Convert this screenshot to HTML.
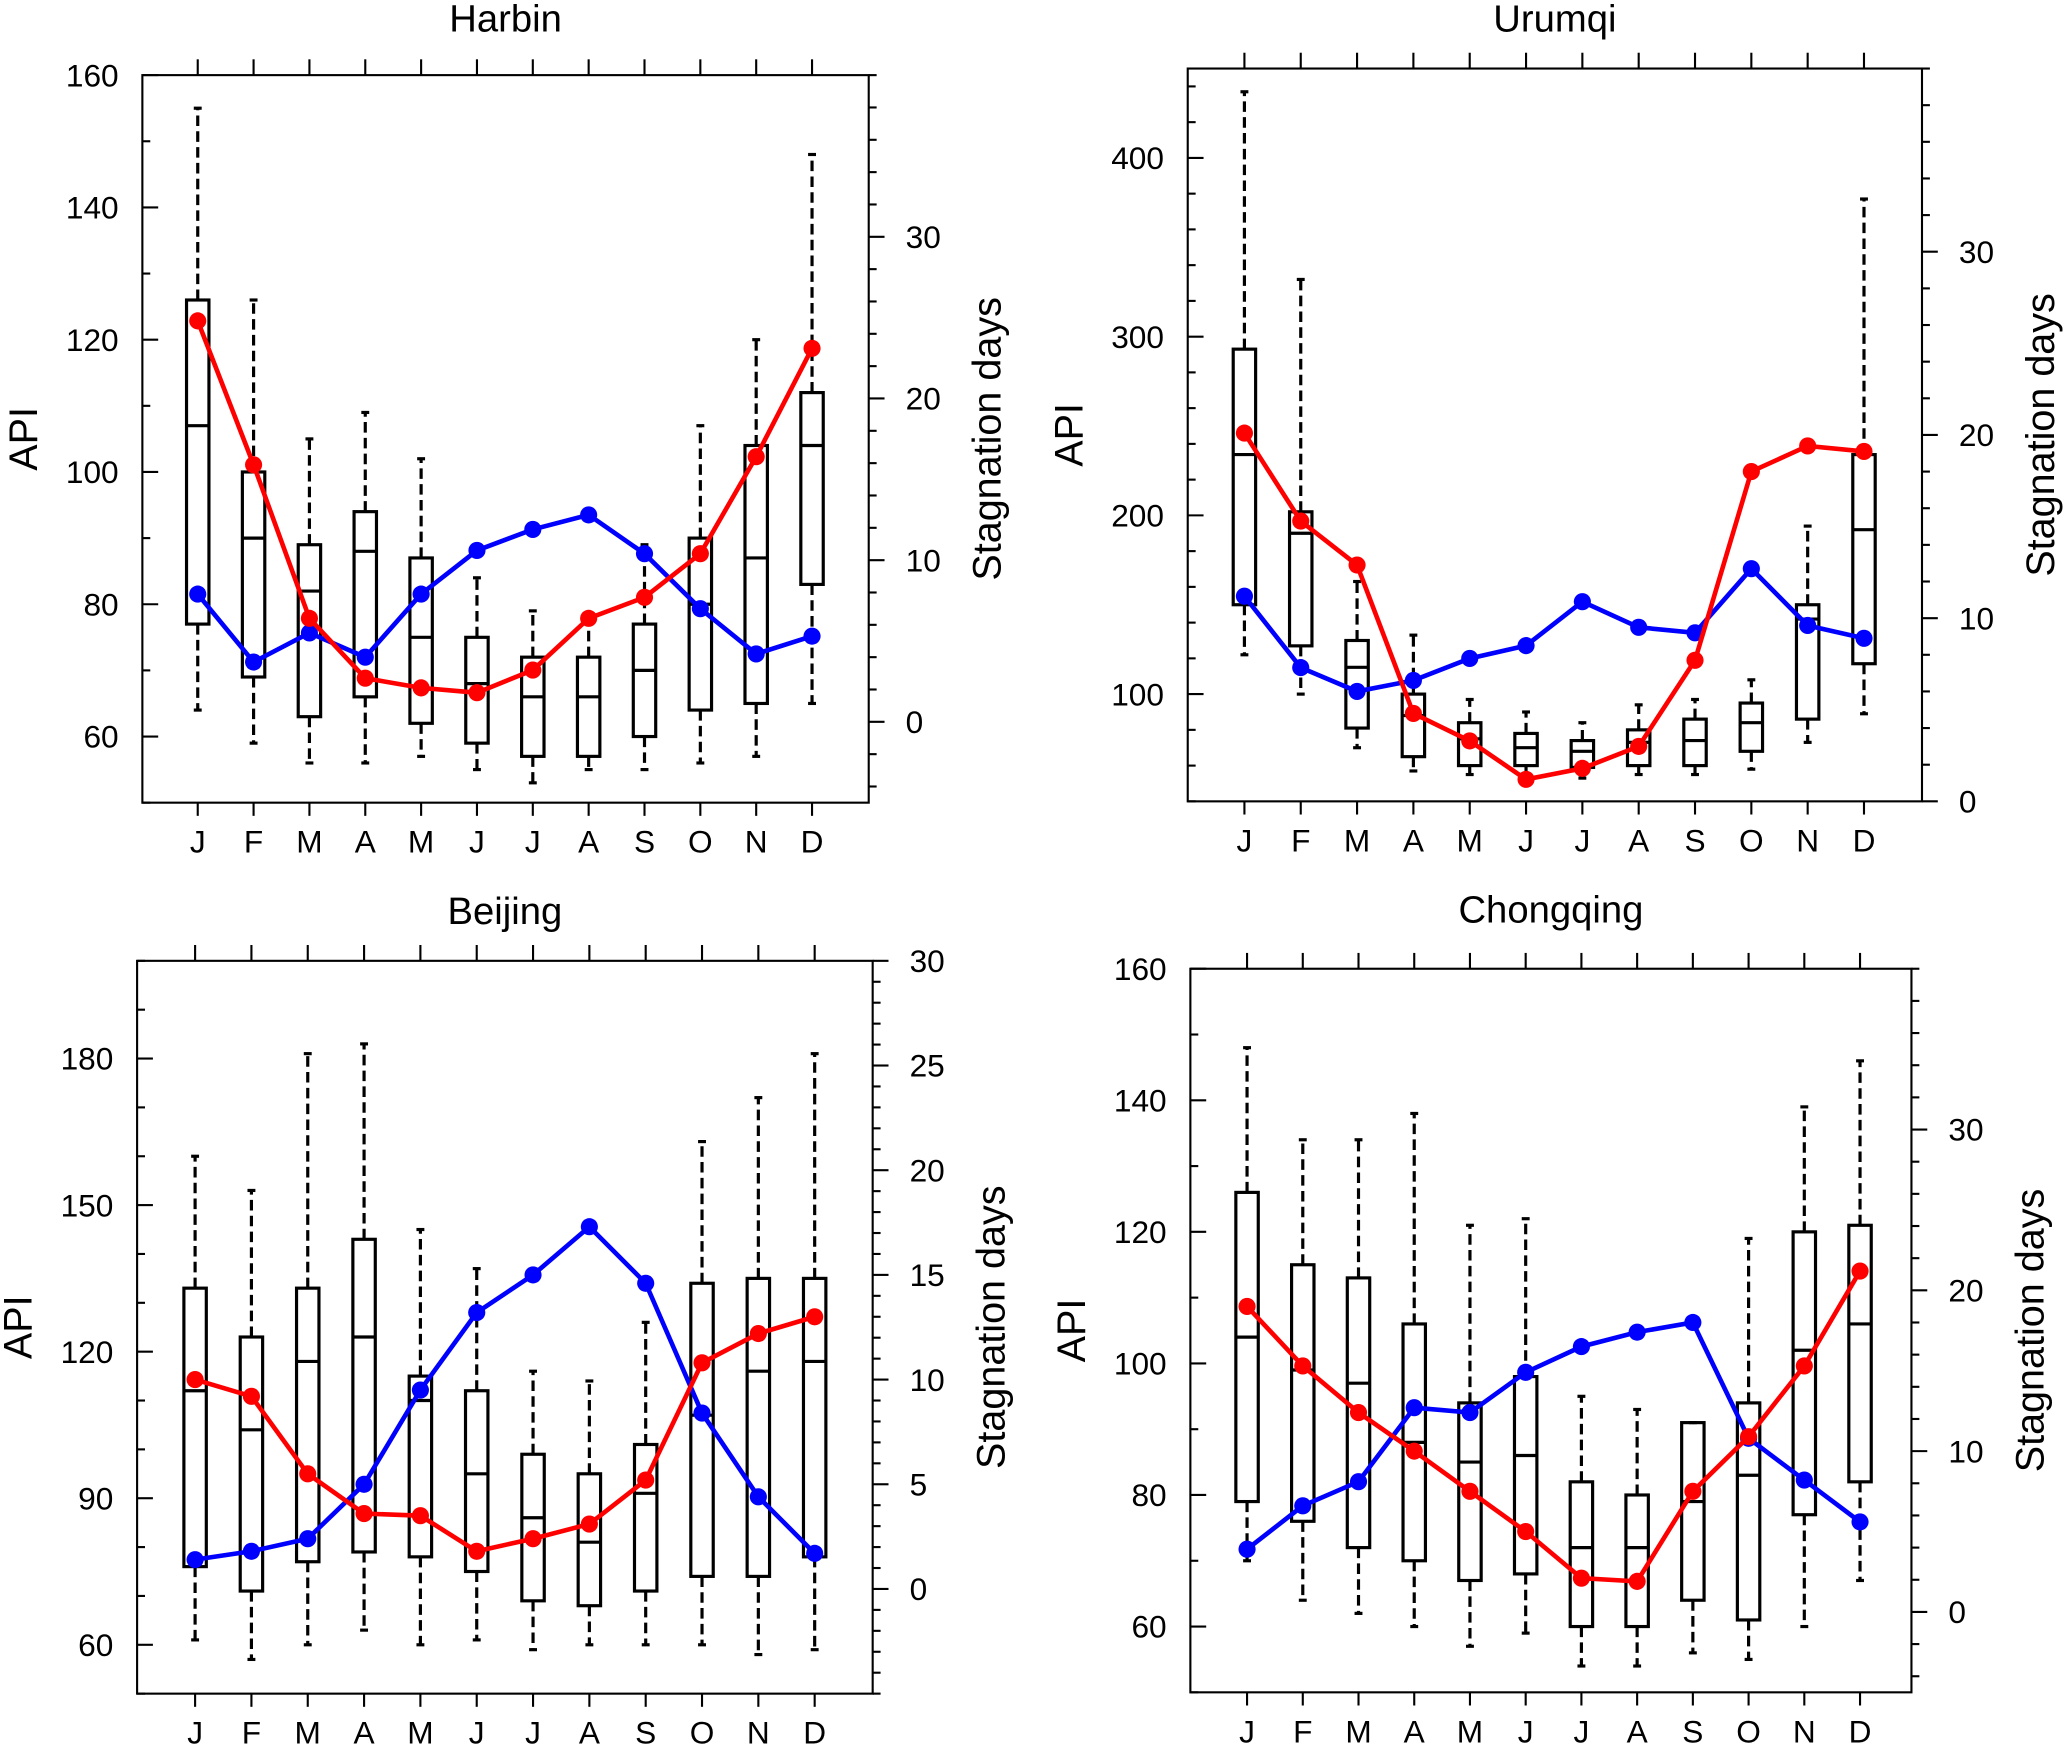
<!DOCTYPE html>
<html><head><meta charset="utf-8"><style>
html,body{margin:0;padding:0;background:#fff}
svg{display:block}
text{font-family:"Liberation Sans",sans-serif;fill:#000}
</style></head><body>
<svg id="chart" width="2067" height="1749" viewBox="0 0 1568 1327" preserveAspectRatio="none" xmlns="http://www.w3.org/2000/svg"></svg>
<script>
const months = ["J","F","M","A","M","J","J","A","S","O","N","D"];
// Box data: [low whisker, q1, median, q3, high whisker]
const harbinBoxes = [[64,77,107,126,155],[59,69,90,100,126],[56,63,82,89,105],[56,66,88,94,109],[57,62,75,87,102],[55,59,68,75,84],[53,57,66,72,79],[55,57,66,72,78],[55,60,70,77,89],[56,64,80,90,107],[57,65,87,104,120],[65,83,104,112,148]];
const harbinRed = [24.8,15.9,6.4,2.7,2.1,1.8,3.2,6.4,7.7,10.4,16.4,23.1];
const harbinBlue = [7.9,3.7,5.5,4.0,7.9,10.6,11.9,12.8,10.4,7.0,4.2,5.3];
const urumqiBoxes = [[122,150,234,293,437],[100,127,190,202,332],[70,81,115,130,163],[57,65,88,100,133],[55,60,75,84,97],[55,60,70,78,90],[53,59,68,74,84],[55,60,73,80,94],[55,60,74,86,97],[58,68,84,95,108],[73,86,142,150,194],[89,117,192,234,377]];
const urumqiRed = [20.1,15.3,12.9,4.8,3.3,1.2,1.8,3.0,7.7,18.0,19.4,19.1];
const urumqiBlue = [11.2,7.3,6.0,6.6,7.8,8.5,10.9,9.5,9.2,12.7,9.6,8.9];
const beijingBoxes = [[61,76,112,133,160],[57,71,104,123,153],[60,77,118,133,181],[63,79,123,143,183],[60,78,110,115,145],[61,75,95,112,137],[59,69,86,99,116],[60,68,81,95,114],[60,71,91,101,126],[60,74,107,134,163],[58,74,116,135,172],[59,78,118,135,181]];
const beijingRed = [10.0,9.2,5.5,3.6,3.5,1.8,2.4,3.1,5.2,10.8,12.2,13.0];
const beijingBlue = [1.4,1.8,2.4,5.0,9.5,13.2,15.0,17.3,14.6,8.4,4.4,1.7];
const chongqingBoxes = [[70,79,104,126,148],[64,76,99,115,134],[62,72,97,113,134],[60,70,88,106,138],[57,67,85,94,121],[59,68,86,98,122],[54,60,72,82,95],[54,60,72,80,93],[56,64,79,91,91],[55,61,83,94,119],[60,77,102,120,139],[67,82,106,121,146]];
const chongqingRed = [19.0,15.3,12.4,10.0,7.5,5.0,2.1,1.9,7.5,10.9,15.3,21.2];
const chongqingBlue = [3.9,6.6,8.1,12.7,12.4,14.9,16.5,17.4,18.0,10.8,8.2,5.6];
const harbinLeftTicks = [60,80,100,120,140,160];
const harbinRightTicks = [0,10,20,30];
const urumqiLeftTicks = [100,200,300,400];
const urumqiRightTicks = [0,10,20,30];
const beijingLeftTicks = [60,90,120,150,180];
const beijingRightTicks = [0,5,10,15,20,25,30];
const chongqingLeftTicks = [60,80,100,120,140,160];
const chongqingRightTicks = [0,10,20,30];

const NS="http://www.w3.org/2000/svg";
const svg=document.getElementById('chart');
function mk(tag,attrs,parent){const e=document.createElementNS(NS,tag);for(const k in attrs)e.setAttribute(k,attrs[k]);(parent||svg).appendChild(e);return e;}

const panels=[
 {id:'harbin',title:'Harbin',x0:108,x1:659,y0:57,y1:609,l:[50,160],r:[-5,40],lt:harbinLeftTicks,lm:10,rt:harbinRightTicks,rm:2,mx:[150,616],boxes:harbinBoxes,red:harbinRed,blue:harbinBlue,ty:24},
 {id:'urumqi',title:'Urumqi',x0:901,x1:1458,y0:52,y1:608,l:[40,450],r:[0,40],lt:urumqiLeftTicks,lm:20,rt:urumqiRightTicks,rm:2,mx:[944,1414],boxes:urumqiBoxes,red:urumqiRed,blue:urumqiBlue,ty:24},
 {id:'beijing',title:'Beijing',x0:104,x1:662,y0:729,y1:1285,l:[50,200],r:[-5,30],lt:beijingLeftTicks,lm:10,rt:beijingRightTicks,rm:1,mx:[148,618],boxes:beijingBoxes,red:beijingRed,blue:beijingBlue,ty:701},
 {id:'chongqing',title:'Chongqing',x0:903,x1:1450,y0:735,y1:1284,l:[50,160],r:[-5,40],lt:chongqingLeftTicks,lm:10,rt:chongqingRightTicks,rm:2,mx:[946,1411],boxes:chongqingBoxes,red:chongqingRed,blue:chongqingBlue,ty:700}
];

panels.forEach(p=>{
 const g=mk('g',{});
 
 
 const yL=v=>p.y1-(v-p.l[0])/(p.l[1]-p.l[0])*(p.y1-p.y0);
 const yR=v=>p.y1-(v-p.r[0])/(p.r[1]-p.r[0])*(p.y1-p.y0);
 const xM=i=>p.mx[0]+i*(p.mx[1]-p.mx[0])/11;
 const t=mk('text',{x:(p.x0+p.x1)/2,y:p.ty,'font-size':29,'text-anchor':'middle'},g);t.textContent=p.title;
 
 const fr=mk('rect',{x:p.x0,y:p.y0,width:p.x1-p.x0,height:p.y1-p.y0,fill:'none',stroke:'#000','stroke-width':1.6},g);
 
 const la=mk('g',{},g);
 for(let v=Math.ceil(p.l[0]/p.lm)*p.lm;v<=p.l[1];v+=p.lm){const y=yL(v);const maj=p.lt.includes(v);
  mk('line',{x1:p.x0,x2:p.x0+(maj?12:6),y1:y,y2:y,stroke:'#000','stroke-width':1.6},la);}
 p.lt.forEach(v=>{const tx=mk('text',{x:p.x0-18,y:yL(v)+8.5,'font-size':24,'text-anchor':'end'},la);tx.textContent=v;
  });
 const at=mk('text',{x:0,y:0,'font-size':30,'text-anchor':'middle',transform:`translate(${p.x0-80},${(p.y0+p.y1)/2}) rotate(-90)`},la);at.textContent='API';
 
 const ra=mk('g',{},g);
 for(let v=Math.ceil(p.r[0]/p.rm)*p.rm;v<=p.r[1];v+=p.rm){const y=yR(v);const maj=p.rt.includes(v);
  mk('line',{x1:p.x1,x2:p.x1+(maj?12:6),y1:y,y2:y,stroke:'#000','stroke-width':1.6},ra);}
 p.rt.forEach(v=>{const tx=mk('text',{x:p.x1+28,y:yR(v)+8.5,'font-size':24},ra);tx.textContent=v;
  });
 const rt=mk('text',{x:0,y:0,'font-size':30,'text-anchor':'middle',transform:`translate(${p.x1+100},${(p.y0+p.y1)/2}) rotate(-90)`},ra);rt.textContent='Stagnation days';
 
 const xa=mk('g',{},g);
 months.forEach((m,i)=>{const x=xM(i);
  mk('line',{x1:x,x2:x,y1:p.y0,y2:p.y0-12,stroke:'#000','stroke-width':1.6},xa);
  mk('line',{x1:x,x2:x,y1:p.y1,y2:p.y1+10,stroke:'#000','stroke-width':1.6},xa);
  const tx=mk('text',{x:x,y:p.y1+38,'font-size':24,'text-anchor':'middle'},xa);tx.textContent=m;
  });
 p.boxes.forEach((b,i)=>{const x=xM(i),w=8.5;
  const bg=mk('g',{},g);
  
  
  mk('line',{x1:x,x2:x,y1:yL(b[3]),y2:yL(b[4]),stroke:'#000','stroke-width':2.4,'stroke-dasharray':'8,4'},bg);
  mk('line',{x1:x,x2:x,y1:yL(b[1]),y2:yL(b[0]),stroke:'#000','stroke-width':2.4,'stroke-dasharray':'8,4'},bg);
  mk('line',{x1:x-3,x2:x+3,y1:yL(b[4]),y2:yL(b[4]),stroke:'#000','stroke-width':2.4},bg);
  mk('line',{x1:x-3,x2:x+3,y1:yL(b[0]),y2:yL(b[0]),stroke:'#000','stroke-width':2.4},bg);
  mk('rect',{x:x-w,y:yL(b[3]),width:2*w,height:yL(b[1])-yL(b[3]),fill:'none',stroke:'#000','stroke-width':2.4},bg);
  mk('line',{x1:x-w,x2:x+w,y1:yL(b[2]),y2:yL(b[2]),stroke:'#000','stroke-width':2.4},bg);
 });
 [['blue',p.blue,'#0000ff'],['red',p.red,'#ff0000']].forEach(([nm,arr,c])=>{
  const lg=mk('g',{},g);
  
  
  mk('polyline',{points:arr.map((v,i)=>xM(i)+','+yR(v)).join(' '),fill:'none',stroke:c,'stroke-width':3.5},lg);
  arr.forEach((v,i)=>{const d=mk('circle',{cx:xM(i),cy:yR(v),r:6.5,fill:c},lg);
   });
 });
});
</script>
</body></html>
